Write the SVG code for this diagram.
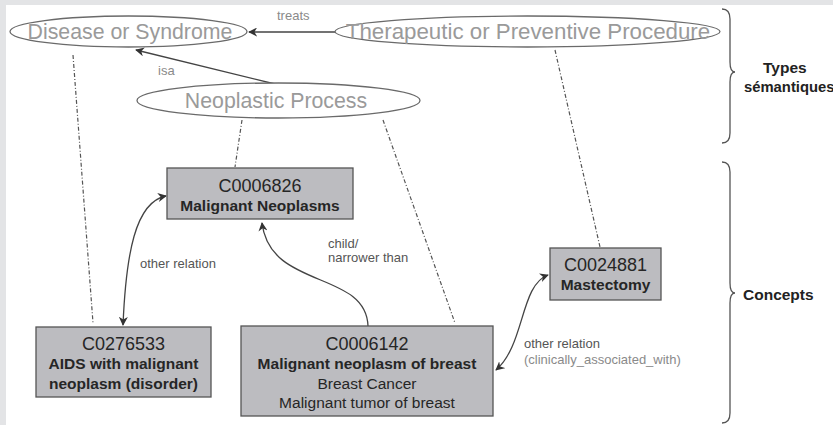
<svg xmlns="http://www.w3.org/2000/svg" width="833" height="425" viewBox="0 0 833 425">
  <style>
    .type ellipse { fill: #ffffff; stroke: #6a6a6a; stroke-width: 1.3; }
    .type text { font-family: "Liberation Sans", Arial, sans-serif; font-size: 21.3px; fill: #9a9a9a; text-anchor: middle; }
    .concept rect { fill: #bcbcc0; stroke: #555555; stroke-width: 1.3; }
    .concept text { font-family: "Liberation Sans", Arial, sans-serif; fill: #262626; text-anchor: middle; }
    .code { font-size: 18px; }
    .name { font-size: 15.5px; font-weight: bold; }
    .syn { font-size: 15.5px; }
    .rel { fill: none; stroke: #444444; stroke-width: 1.3; }
    .link { fill: none; stroke: #555555; stroke-width: 1.2; stroke-dasharray: 4 2 1 2; }
    .lbl { font-family: "Liberation Sans", Arial, sans-serif; font-size: 13px; fill: #555555; }
    .lbl.light { fill: #8a8a8a; }
    .brace { fill: none; stroke: #555555; stroke-width: 1.3; }
    .side { font-family: "Liberation Sans", Arial, sans-serif; font-size: 15.5px; font-weight: bold; fill: #222222; }
  </style>
  <defs>
    <marker id="arrow" viewBox="0 0 10 10" refX="9" refY="5" markerWidth="9" markerHeight="9" markerUnits="userSpaceOnUse" orient="auto-start-reverse">
      <path d="M0,0 L10,5 L0,10 L3,5 z" fill="#333333"/>
    </marker>
  </defs>

  <!-- page frame -->
  <rect x="0" y="0" width="833" height="425" fill="#e3e4e6"/>
  <rect x="6" y="5" width="827" height="420" fill="#ffffff"/>

  <!-- connectors -->
  <g id="connectors">
    <!-- semantic type to concept links -->
    <path class="link" d="M73,55 L93,323"/>
    <path class="link" d="M242,120 L235,167"/>
    <path class="link" d="M383,120 L455,323"/>
    <path class="link" d="M555,50 L600,247"/>

    <!-- relations between semantic types -->
    <path class="rel" d="M335,32 L249,32" marker-end="url(#arrow)"/>
    <text class="lbl light" x="277" y="20">treats</text>
    <path class="rel" d="M275,84 L136,50" marker-end="url(#arrow)"/>
    <text class="lbl light" x="158" y="75">isa</text>

    <!-- relations between concepts -->
    <path class="rel" d="M123,325 C126,255 135,202 166,196" marker-start="url(#arrow)" marker-end="url(#arrow)"/>
    <text class="lbl" x="140" y="268">other relation</text>

    <path class="rel" d="M368,326 C366,270 270,290 262,223" marker-end="url(#arrow)"/>
    <text class="lbl" x="328" y="248">child/</text>
    <text class="lbl" x="328" y="262">narrower than</text>

    <path class="rel" d="M548,275 C520,285 525,345 496,370" marker-start="url(#arrow)" marker-end="url(#arrow)"/>
    <text class="lbl" x="524" y="348">other relation</text>
    <text class="lbl light" x="524" y="364">(clinically_associated_with)</text>
  </g>

  <!-- semantic types -->
  <g id="disease-or-syndrome" class="type">
    <ellipse cx="128.5" cy="31.5" rx="118.5" ry="15.5"/>
    <text x="130" y="39">Disease or Syndrome</text>
  </g>
  <g id="therapeutic-procedure" class="type">
    <ellipse cx="527.5" cy="31.5" rx="192.5" ry="15.5"/>
    <text x="528" y="39" style="font-size:22.3px">Therapeutic or Preventive Procedure</text>
  </g>
  <g id="neoplastic-process" class="type">
    <ellipse cx="278.5" cy="100.5" rx="141.5" ry="17.5"/>
    <text x="276" y="108">Neoplastic Process</text>
  </g>

  <!-- concepts -->
  <g id="c0006826" class="concept">
    <rect x="167" y="168" width="186" height="51"/>
    <text class="code" x="260" y="192">C0006826</text>
    <text class="name" x="260" y="211">Malignant Neoplasms</text>
  </g>
  <g id="c0276533" class="concept">
    <rect x="36" y="327" width="175" height="70"/>
    <text class="code" x="123.5" y="350">C0276533</text>
    <text class="name" x="123.5" y="369">AIDS with malignant</text>
    <text class="name" x="123.5" y="389">neoplasm (disorder)</text>
  </g>
  <g id="c0006142" class="concept">
    <rect x="241" y="326" width="252" height="90"/>
    <text class="code" x="367" y="350">C0006142</text>
    <text class="name" x="367" y="369">Malignant neoplasm of breast</text>
    <text class="syn" x="367" y="389">Breast Cancer</text>
    <text class="syn" x="367" y="408">Malignant tumor of breast</text>
  </g>
  <g id="c0024881" class="concept">
    <rect x="550" y="248" width="111" height="52"/>
    <text class="code" x="605.5" y="271">C0024881</text>
    <text class="name" x="605.5" y="290">Mastectomy</text>
  </g>

  <!-- level braces -->
  <g id="level-types">
    <path class="brace" d="M722,9 Q730,9 730,19 L730,62 Q730,72 735,72 Q730,72 730,82 L730,133 Q730,143 722,143"/>
    <text class="side" x="763" y="73">Types</text>
    <text class="side" x="744" y="92" style="font-size:14.8px">sémantiques</text>
  </g>
  <g id="level-concepts">
    <path class="brace" d="M722,162 Q730,162 730,172 L730,283 Q730,293 735,293 Q730,293 730,303 L730,413 Q730,423 722,423"/>
    <text class="side" x="743" y="300">Concepts</text>
  </g>
</svg>
